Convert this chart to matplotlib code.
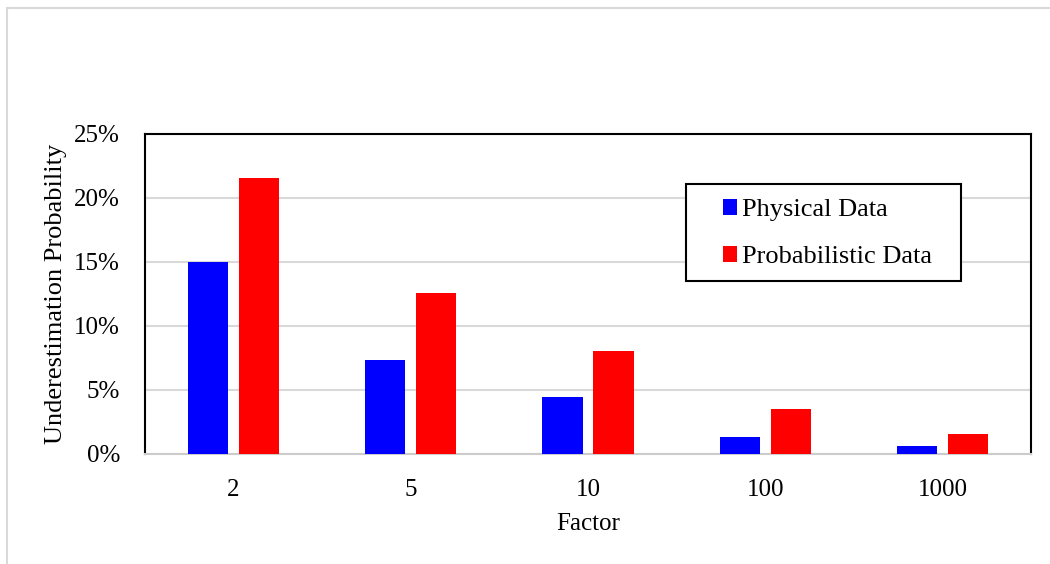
import matplotlib
matplotlib.use("Agg")
import matplotlib.pyplot as plt
import numpy as np
from matplotlib.patches import Rectangle

factors = ["2", "5", "10", "100", "1000"]
physical = [15.0, 7.35, 4.45, 1.33, 0.63]
probabilistic = [21.6, 12.58, 8.05, 3.5, 1.56]
series_names = ["Physical Data", "Probabilistic Data"]
yticks = [0, 5, 10, 15, 20, 25]

plt.rcParams["font.family"] = ["Liberation Serif", "DejaVu Serif"]

W, H = 1050, 564
fig = plt.figure(figsize=(W / 100, H / 100), dpi=100)

# light frame around the chart area
fig.patches.append(Rectangle((7 / W, -0.1), 1.2, (H - 8) / H + 0.1,
                             transform=fig.transFigure, fill=False,
                             edgecolor="#d9d9d9", linewidth=1.5))

L, R, T, B = 145, 1031, 134, 454
ax = fig.add_axes([L / W, 1 - B / H, (R - L) / W, (B - T) / H])

def ax_xy(px, py):
    return (px - L) / (R - L), (B - py) / (B - T)

x = np.arange(len(factors))
bw = 0.226
off = 0.144
ax.bar(x - off, physical, width=bw, color="#0000ff", label=series_names[0], zorder=3)
ax.bar(x + off, probabilistic, width=bw, color="#ff0000", label=series_names[1], zorder=3)

ax.set_xlim(-0.5, len(factors) - 0.5)
ax.set_ylim(0, 25)
ax.set_yticks(yticks)
ax.set_yticklabels([f"{v}%" for v in yticks])
ax.set_xticks(x)
ax.set_xticklabels(factors)
ax.tick_params(axis="both", length=0, labelsize=18, colors="black")
ax.tick_params(axis="x", pad=18)
ax.tick_params(axis="y", pad=18)

ax.yaxis.grid(True, color="#d9d9d9", linewidth=1.5, zorder=0)
ax.set_axisbelow(True)

for side in ["left", "top", "right"]:
    ax.spines[side].set_color("black")
    ax.spines[side].set_linewidth(1.5)
ax.spines["bottom"].set_color("#cccccc")
ax.spines["bottom"].set_linewidth(1.5)

ax.set_xlabel("Factor", fontsize=18, labelpad=9)
ax.set_ylabel("Underestimation Probability", fontsize=19, labelpad=5)

# legend entries without frame, boxed by a separate rectangle
leg = ax.legend(loc="upper left", bbox_to_anchor=ax_xy(723, 199),
                fontsize=19, frameon=False, handlelength=0.53, handleheight=0.53,
                handletextpad=0.2, labelspacing=0.95, borderpad=0, borderaxespad=0)
x0, y1 = ax_xy(686, 184)
x1, y0 = ax_xy(961, 281)
ax.add_patch(Rectangle((x0, y0), x1 - x0, y1 - y0, transform=ax.transAxes,
                       fill=True, facecolor="white", edgecolor="black",
                       linewidth=1.5, zorder=4))

fig.savefig("out.png", dpi=100, facecolor="white")
